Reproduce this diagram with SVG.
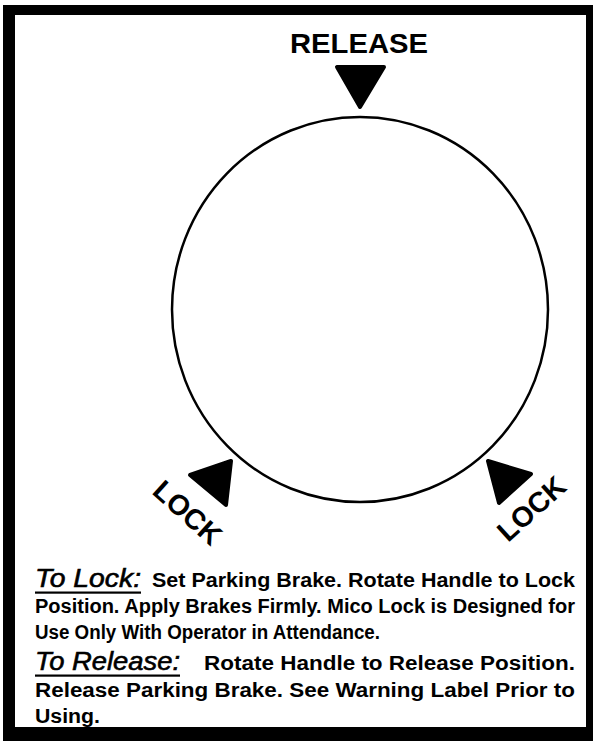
<svg xmlns="http://www.w3.org/2000/svg" width="593" height="741" viewBox="0 0 593 741">
<style>
.lbl{font-family:"Liberation Sans",Arial,sans-serif;font-weight:bold;fill:#000}
.hd{font-family:"Liberation Sans",Arial,sans-serif;font-style:italic;fill:#000;stroke:#000;stroke-width:0.6;font-size:26px}
.body{font-family:"Liberation Sans",Arial,sans-serif;font-weight:bold;fill:#000;font-size:20px}
.tri{fill:#000;stroke:#000;stroke-width:4;stroke-linejoin:round}
</style>
<rect x="0" y="0" width="593" height="741" fill="#fff"/>
<rect id="frame" x="3" y="5" width="590" height="736" fill="#000"/>
<rect x="15" y="15" width="571" height="712" fill="#fff"/>
<g id="dial">
<ellipse cx="360" cy="309.5" rx="188" ry="192.5" fill="none" stroke="#000" stroke-width="2.5"/>
</g>
<g id="release">
<text class="lbl" x="359" y="53" font-size="28" text-anchor="middle" textLength="138" lengthAdjust="spacingAndGlyphs">RELEASE</text>
<polygon class="tri" points="337,67 384,67 360,107"/>
</g>
<g id="lock-left">
<polygon class="tri" points="190,475 231,461 226,505"/>
<text class="lbl" font-size="28.5" text-anchor="middle" transform="translate(181,520) rotate(42)">LOCK</text>
</g>
<g id="lock-right">
<polygon class="tri" points="488,461 531,474 499,503"/>
<text class="lbl" font-size="28.5" text-anchor="middle" transform="translate(538,516) rotate(-42)">LOCK</text>
</g>
<g id="instructions">
<text class="hd" x="35" y="587" textLength="106" lengthAdjust="spacingAndGlyphs">To Lock:</text>
<rect x="35" y="591.5" width="106" height="2.2" fill="#000"/>
<text class="body" x="152" y="587" textLength="423" lengthAdjust="spacingAndGlyphs">Set Parking Brake. Rotate Handle to Lock</text>
<text class="body" x="35" y="613" textLength="540" lengthAdjust="spacingAndGlyphs">Position. Apply Brakes Firmly. Mico Lock is Designed for</text>
<text class="body" x="35" y="639" textLength="345" lengthAdjust="spacingAndGlyphs">Use Only With Operator in Attendance.</text>
<text class="hd" x="35" y="670" textLength="145" lengthAdjust="spacingAndGlyphs">To Release:</text>
<rect x="35" y="674.5" width="145" height="2.2" fill="#000"/>
<text class="body" x="204" y="670" textLength="371" lengthAdjust="spacingAndGlyphs">Rotate Handle to Release Position.</text>
<text class="body" x="35" y="697" textLength="540" lengthAdjust="spacingAndGlyphs">Release Parking Brake. See Warning Label Prior to</text>
<text class="body" x="35" y="723" textLength="65" lengthAdjust="spacingAndGlyphs">Using.</text>
</g>
</svg>
